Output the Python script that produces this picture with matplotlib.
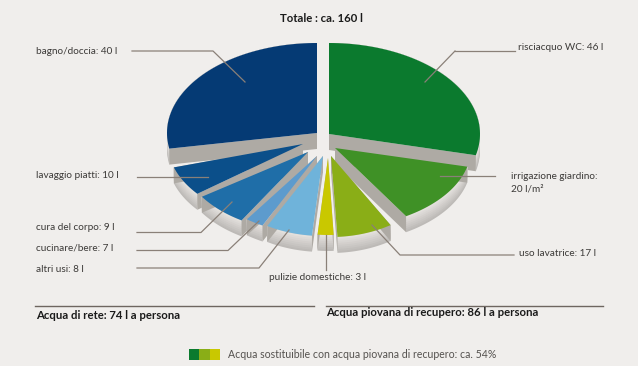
import numpy as np
import matplotlib
matplotlib.use('Agg')
import matplotlib.pyplot as plt
from matplotlib.patches import Polygon, Rectangle

plt.rcParams['font.family'] = ['Lato', 'DejaVu Sans']

# litres per person, clockwise from the top
names = ['risciacquo WC', 'irrigazione giardino', 'uso lavatrice', 'pulizie domestiche',
         'altri usi', 'cucinare/bere', 'cura del corpo', 'lavaggio piatti', 'bagno/doccia']
litres = [46, 20, 17, 3, 8, 7, 9, 10, 40]
colors = ['#0b7a2e', '#3f9126', '#8aae17', '#c9c800', '#6fb3da',
          '#5d9bcd', '#1f6ea8', '#0b4f8a', '#053a74']

# exploded 3d look: apex, radii and apparent angle shift of each slice
apex = [(329, 134), (335, 148), (331, 156), (328, 158), (323, 156),
        (317, 156), (308, 152), (303, 144), (317, 133)]
radii = [(151, 91), (136, 80), (114, 81), (100, 77), (115, 80),
         (120, 78), (128, 80), (135, 80), (150, 90)]
shift_start = [0, 0, 0, -10, -8, -4.5, -16, -16, -10]
shift_end = [0, 0, -10, -7.5, -2.5, -11.5, -11.5, -17, 0]
draw_order = [0, 8, 1, 7, 6, 2, 5, 4, 3]
depth = 16

fig = plt.figure(figsize=(6.38, 3.66), dpi=100, facecolor='#f0eeec')
ax = fig.add_axes([0, 0, 1, 1])
ax.set_xlim(0, 638)
ax.set_ylim(366, 0)
ax.axis('off')

edges = np.cumsum([0] + litres) / sum(litres) * 360


def rim(i, n=60):
    t = np.radians(np.linspace(edges[i] + shift_start[i], edges[i + 1] + shift_end[i], n))
    x = apex[i][0] + radii[i][0] * np.sin(t)
    y = apex[i][1] - radii[i][1] * np.cos(t)
    return x, y


for i in draw_order:
    x, y = rim(i)
    ax0, ay0 = apex[i]
    # outer wall, bands give a soft vertical gradient
    for k in range(8):
        d = depth * (1 - k / 8)
        shade = 0.74 + 0.15 * k / 7
        pts = np.r_[np.c_[x, y], np.c_[x, y + d][::-1]]
        ax.add_patch(Polygon(pts, fc=(shade, shade * 0.985, shade * 0.97), ec='none', zorder=2))
    # cut faces
    for j in (0, -1):
        pts = [(ax0, ay0), (x[j], y[j]), (x[j], y[j] + depth), (ax0, ay0 + depth)]
        ax.add_patch(Polygon(pts, fc='#aeaaa4', ec='none', zorder=2))
    ax.add_patch(Polygon(np.r_[[[ax0, ay0]], np.c_[x, y]], fc=colors[i], ec='none', zorder=2))

# leader lines
leaders = [
    [(455, 51), (515, 51)], [(455, 51), (425, 82)],
    [(440, 176), (495, 176)],
    [(372, 225), (400, 255), (514, 255)],
    [(326, 235), (326, 270)],
    [(137, 268), (259, 268), (289, 230)],
    [(137, 250.5), (228, 250.5), (259, 221)],
    [(137, 232.5), (201, 232.5), (232, 202)],
    [(137, 177), (208, 177)],
    [(132, 51), (213, 51), (245, 82)],
]
for pts in leaders:
    px, py = zip(*pts)
    ax.plot(px, py, color='#8a8078', lw=0.9, zorder=3)

label_color = '#3c3a38'
label_size = 7.2
ax.text(518, 48, f'{names[0]}: {litres[0]} l', fontsize=label_size, color=label_color, va='center')
ax.text(511, 182.5, 'irrigazione giardino:\n20 l/m²', fontsize=label_size, color=label_color,
        va='center', linespacing=1.45)
ax.text(519, 254, f'{names[2]}: {litres[2]} l', fontsize=label_size, color=label_color, va='center')
ax.text(269, 277, f'{names[3]}: {litres[3]} l', fontsize=label_size, color=label_color, va='center')
left_y = {4: 269, 5: 248, 6: 228, 7: 176, 8: 51}
for i, y in left_y.items():
    ax.text(36, y, f'{names[i]}: {litres[i]} l', fontsize=label_size, color=label_color, va='center')

ax.text(321, 18, 'Totale : ca. 160 l', fontsize=8.2, fontweight='bold', color='#1a1a1a',
        ha='center', va='center')

# summary rows
ax.plot([35, 314], [306, 306], color='#6e6660', lw=1)
ax.plot([326, 603], [306, 306], color='#6e6660', lw=1)
ax.text(36, 315.5, f'Acqua di rete: {sum(litres[4:])} l a persona', fontsize=8.2,
        fontweight='bold', color='#1a1a1a', va='center')
ax.text(326, 313, f'Acqua piovana di recupero: {sum(litres[:4])} l a persona', fontsize=8.2,
        fontweight='bold', color='#1a1a1a', va='center')

# legend swatches
for k, c in enumerate(['#0b7a2e', '#8aae17', '#c9c800']):
    ax.add_patch(Rectangle((188.5 + k * 10.5, 349), 10.5, 11, fc=c, ec='none'))
ax.text(228, 354, 'Acqua sostituibile con acqua piovana di recupero: ca. 54%', fontsize=7.6,
        color='#55524f', va='center')

fig.savefig('out.png', dpi=100, facecolor=fig.get_facecolor())
